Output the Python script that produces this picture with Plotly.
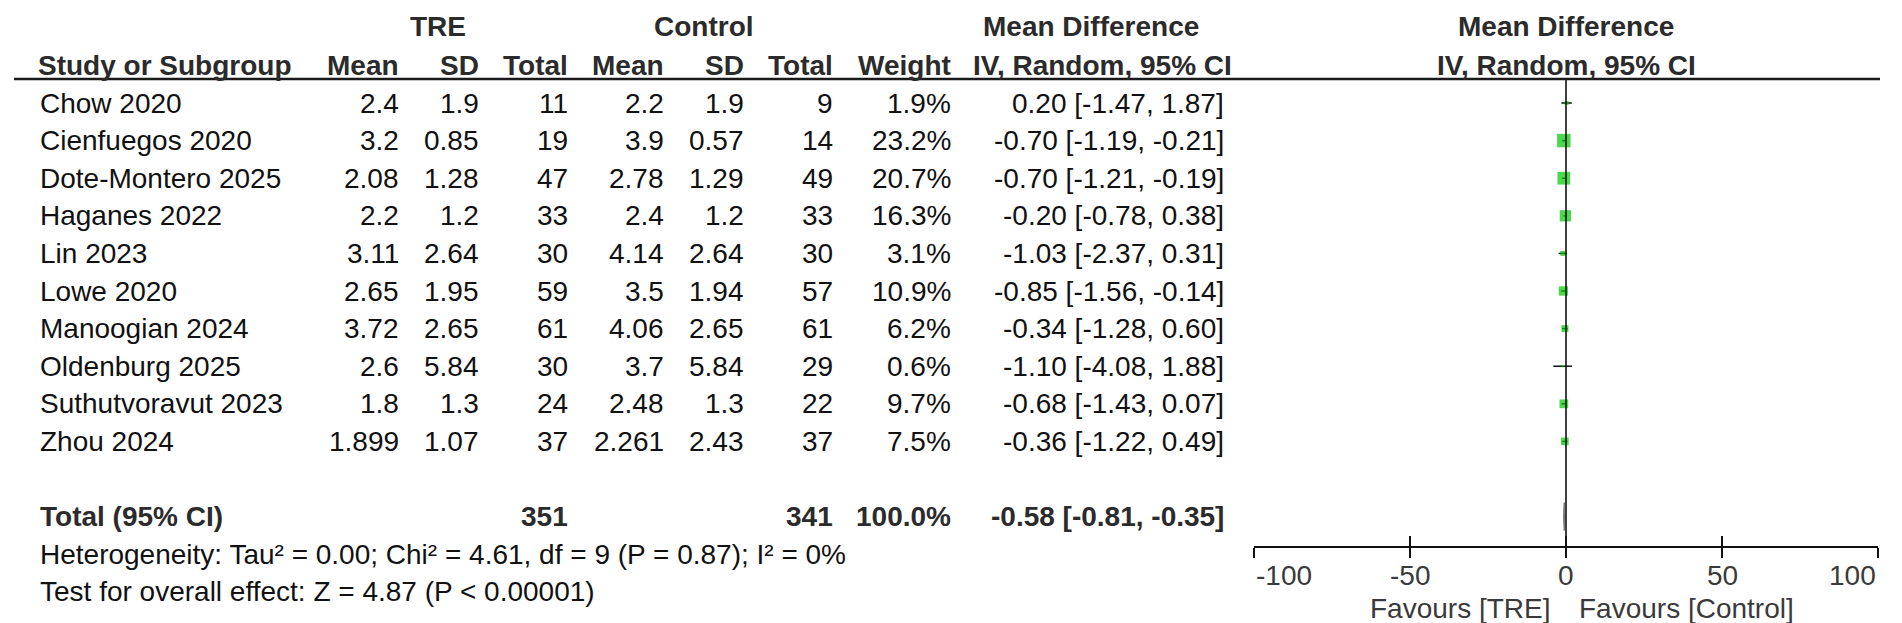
import plotly.graph_objects as go

# ---------------- data ----------------
studies = ["Chow 2020", "Cienfuegos 2020", "Dote-Montero 2025", "Haganes 2022", "Lin 2023",
           "Lowe 2020", "Manoogian 2024", "Oldenburg 2025", "Suthutvoravut 2023", "Zhou 2024"]
tre_mean = [2.4, 3.2, 2.08, 2.2, 3.11, 2.65, 3.72, 2.6, 1.8, 1.899]
tre_sd = [1.9, 0.85, 1.28, 1.2, 2.64, 1.95, 2.65, 5.84, 1.3, 1.07]
tre_n = [11, 19, 47, 33, 30, 59, 61, 30, 24, 37]
ctl_mean = [2.2, 3.9, 2.78, 2.4, 4.14, 3.5, 4.06, 3.7, 2.48, 2.261]
ctl_sd = [1.9, 0.57, 1.29, 1.2, 2.64, 1.94, 2.65, 5.84, 1.3, 2.43]
ctl_n = [9, 14, 49, 33, 30, 57, 61, 29, 22, 37]
weight = [1.9, 23.2, 20.7, 16.3, 3.1, 10.9, 6.2, 0.6, 9.7, 7.5]
md = [0.20, -0.70, -0.70, -0.20, -1.03, -0.85, -0.34, -1.10, -0.68, -0.36]
ci_lo = [-1.47, -1.19, -1.21, -0.78, -2.37, -1.56, -1.28, -4.08, -1.43, -1.22]
ci_hi = [1.87, -0.21, -0.19, 0.38, 0.31, -0.14, 0.60, 1.88, 0.07, 0.49]
total_tre_n = 351
total_ctl_n = 341
total_weight = 100.0
total_md = -0.58
total_lo = -0.81
total_hi = -0.35
heterogeneity = "Heterogeneity: Tau² = 0.00; Chi² = 4.61, df = 9 (P = 0.87); I² = 0%"
overall = "Test for overall effect: Z = 4.87 (P < 0.00001)"
tick_vals = [-100, -50, 0, 50, 100]
tick_text = ["-100", "-50", "0", "50", "100"]
favours_left = "Favours [TRE]"
favours_right = "Favours [Control]"

# ---------------- layout constants (pixels) ----------------
W, H = 1902, 623
ROW0 = 95.0      # y of first study row
ROWH = 37.6      # row pitch
AX_L, AX_R = 1246, 1870
AXIS_Y = 538
FONT = "Liberation Sans, Arial, sans-serif"
FS = 28
TXT = "#111111"
BOLD = "#2b2b2b"
GREY = "#3a3a3a"


def row_of(p):
    return (p - ROW0) / ROWH


def px(x):
    return x / W


n = len(studies)
rows = list(range(n))
total_row = 11
het_row = 12
test_row = 13
hdr1 = row_of(18)
hdr2 = row_of(57)
underline = row_of(71)

fig = go.Figure()

# CI lines
cx, cy = [], []
for i in rows:
    cx += [ci_lo[i], ci_hi[i], None]
    cy += [i, i, None]
fig.add_trace(go.Scatter(x=cx, y=cy, mode="lines", line=dict(color="#111111", width=1.5),
                         hoverinfo="skip", showlegend=False))
# squares
fig.add_trace(go.Scatter(x=md, y=rows, mode="markers",
                         marker=dict(symbol="square", color="#00c800",
                                     size=[2.8 * (w ** 0.5) for w in weight], line=dict(width=0)),
                         hoverinfo="skip", showlegend=False))
# diamond
dh = 14 / ROWH
fig.add_trace(go.Scatter(x=[total_lo, total_md, total_hi, total_md, total_lo],
                         y=[total_row, total_row - dh, total_row, total_row + dh, total_row],
                         mode="lines", fill="toself", fillcolor="#777777",
                         line=dict(color="#777777", width=1), hoverinfo="skip", showlegend=False))
# zero line
fig.add_trace(go.Scatter(x=[0, 0], y=[underline, row_of(AXIS_Y)], mode="lines",
                         line=dict(color="#111111", width=1.6), hoverinfo="skip", showlegend=False))

# axis carriers
fig.add_trace(go.Scatter(x=[None], y=[None], xaxis="x2", yaxis="y2", showlegend=False))
fig.add_trace(go.Scatter(x=[None], y=[None], xaxis="x3", yaxis="y2", showlegend=False))

ann = []


def text(x, y, s, anchor="left", bold=False, size=FS, xref="paper"):
    ann.append(dict(x=x, y=y, xref=xref, yref="y", text=("<b>%s</b>" % s) if bold else s,
                    xanchor=anchor, yanchor="middle", showarrow=False,
                    font=dict(family=FONT, size=size, color=BOLD if bold else TXT)))


# headers
text(px(430), hdr1, "TRE", "center", True)
text(px(696), hdr1, "Control", "center", True)
text(px(1083), hdr1, "Mean Difference", "center", True)
text(px(1558), hdr1, "Mean Difference", "center", True)
text(px(28), hdr2, "Study or Subgroup", "left", True)
cols = [("Mean", 393), ("SD", 473), ("Total", 562), ("Mean", 658), ("SD", 738), ("Total", 827), ("Weight", 945)]
for lab, x in cols:
    text(px(x), hdr2, lab, "right", True)
text(px(1094), hdr2, "IV, Random, 95% CI", "center", True)
text(px(1558), hdr2, "IV, Random, 95% CI", "center", True)

# study rows
for i in rows:
    text(px(30), i, studies[i], "left")
    text(px(393), i, str(tre_mean[i]), "right")
    text(px(473), i, str(tre_sd[i]), "right")
    text(px(562), i, str(tre_n[i]), "right")
    text(px(658), i, str(ctl_mean[i]), "right")
    text(px(738), i, str(ctl_sd[i]), "right")
    text(px(827), i, str(ctl_n[i]), "right")
    text(px(945), i, "%.1f%%" % weight[i], "right")
    text(px(1218), i, "%.2f [%.2f, %.2f]" % (md[i], ci_lo[i], ci_hi[i]), "right")

# total row
text(px(30), total_row, "Total (95% CI)", "left", True)
text(px(562), total_row, str(total_tre_n), "right", True)
text(px(827), total_row, str(total_ctl_n), "right", True)
text(px(945), total_row, "%.1f%%" % total_weight, "right", True)
text(px(1218), total_row, "%.2f [%.2f, %.2f]" % (total_md, total_lo, total_hi), "right", True)
text(px(30), het_row, heterogeneity, "left")
text(px(30), test_row, overall, "left")

# tick labels
for j, (v, t) in enumerate(zip(tick_vals, tick_text)):
    anchor = "left" if j == 0 else ("right" if j == len(tick_vals) - 1 else "center")
    ann.append(dict(x=v, y=row_of(567), xref="x", yref="y", text=t, xanchor=anchor, yanchor="middle",
                    showarrow=False, font=dict(family=FONT, size=FS, color=GREY)))
ann.append(dict(x=0, y=row_of(600), xref="x", yref="y", text=favours_left, xanchor="right", yanchor="middle",
                xshift=-14, showarrow=False, font=dict(family=FONT, size=FS, color=GREY)))
ann.append(dict(x=0, y=row_of(600), xref="x", yref="y", text=favours_right, xanchor="left", yanchor="middle",
                xshift=11, showarrow=False, font=dict(family=FONT, size=FS, color=GREY)))

dom = [AX_L / W, AX_R / W]
axis_common = dict(domain=dom, range=[-100, 100], anchor="y2", showgrid=False, zeroline=False,
                   showline=True, linecolor="#111111", linewidth=1.6, tickvals=tick_vals,
                   showticklabels=False, ticklen=10, tickwidth=1.6, tickcolor="#111111", fixedrange=True)

fig.update_layout(
    width=W, height=H, margin=dict(l=0, r=0, t=0, b=0),
    paper_bgcolor="white", plot_bgcolor="rgba(0,0,0,0)",
    xaxis=dict(domain=dom, range=[-100, 100], visible=False, fixedrange=True),
    yaxis=dict(domain=[0, 1], range=[row_of(H), row_of(0)], visible=False, fixedrange=True),
    xaxis2=dict(ticks="outside", **axis_common),
    xaxis3=dict(ticks="inside", **axis_common),
    yaxis2=dict(domain=[(H - AXIS_Y) / H, 1], range=[0, 1], visible=False, fixedrange=True),
    annotations=ann,
    shapes=[dict(type="line", xref="paper", yref="y", x0=px(6), x1=px(1872), y0=underline, y1=underline,
                 line=dict(color="#1a1a1a", width=2.5))],
    showlegend=False,
)

fig.write_html("out.html", config={"displayModeBar": False})
